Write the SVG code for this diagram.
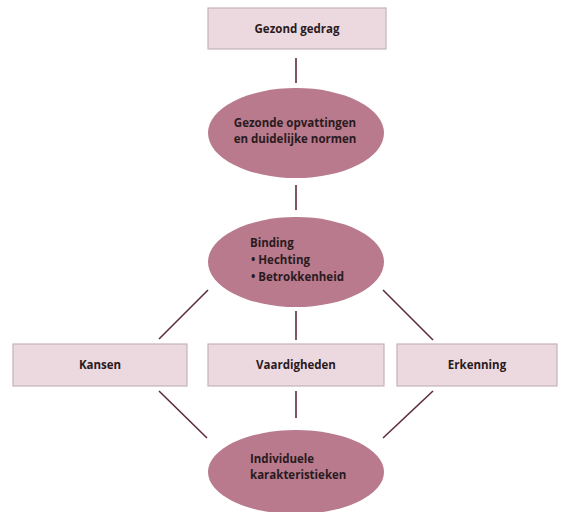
<svg xmlns="http://www.w3.org/2000/svg" width="562" height="512" viewBox="0 0 562 512">
<style>
.box{fill:#ecd9df;stroke:#c4b4b9;stroke-width:1.2}
.ell{fill:#b87a8c;stroke:none}
.t{font-family:"Open Sans","Noto Sans","DejaVu Sans",sans-serif;font-weight:bold;font-size:11.5px;fill:#2a1a20}
.c{text-anchor:middle}
.ln{stroke:#5e2c3a;stroke-width:1.6;fill:none}
</style>
<rect width="562" height="512" fill="#ffffff"/>
<g id="connectors">
<line class="ln" x1="296" y1="58" x2="296" y2="83"/>
<line class="ln" x1="296" y1="185" x2="296" y2="210"/>
<line class="ln" x1="296" y1="311" x2="296" y2="340"/>
<line class="ln" x1="296" y1="391" x2="296" y2="418"/>
<line class="ln" x1="159" y1="339" x2="208" y2="290"/>
<line class="ln" x1="383" y1="290" x2="433" y2="340"/>
<line class="ln" x1="159" y1="391" x2="207" y2="438"/>
<line class="ln" x1="433" y1="391" x2="383" y2="438"/>
</g>
<g id="gezond-gedrag">
<rect class="box" x="208" y="8" width="178" height="41"/>
<text class="t c" x="297" y="33">Gezond gedrag</text>
</g>
<g id="opvattingen">
<ellipse class="ell" cx="296" cy="133" rx="88" ry="45"/>
<text class="t c" x="295" y="127">Gezonde opvattingen</text>
<text class="t c" x="295" y="143">en duidelijke normen</text>
</g>
<g id="binding">
<ellipse class="ell" cx="296" cy="262" rx="88" ry="45"/>
<text class="t" x="250" y="247">Binding</text>
<text class="t" x="251" y="264">• Hechting</text>
<text class="t" x="251" y="281">• Betrokkenheid</text>
</g>
<g id="kansen">
<rect class="box" x="13" y="344" width="174" height="42"/>
<text class="t c" x="100" y="369">Kansen</text>
</g>
<g id="vaardigheden">
<rect class="box" x="208" y="344" width="176" height="42"/>
<text class="t c" x="296" y="369">Vaardigheden</text>
</g>
<g id="erkenning">
<rect class="box" x="397" y="344" width="160" height="42"/>
<text class="t c" x="477" y="369">Erkenning</text>
</g>
<g id="individuele">
<ellipse class="ell" cx="296" cy="472" rx="88" ry="42"/>
<text class="t" x="250" y="463">Individuele</text>
<text class="t" x="250" y="479">karakteristieken</text>
</g>
</svg>
